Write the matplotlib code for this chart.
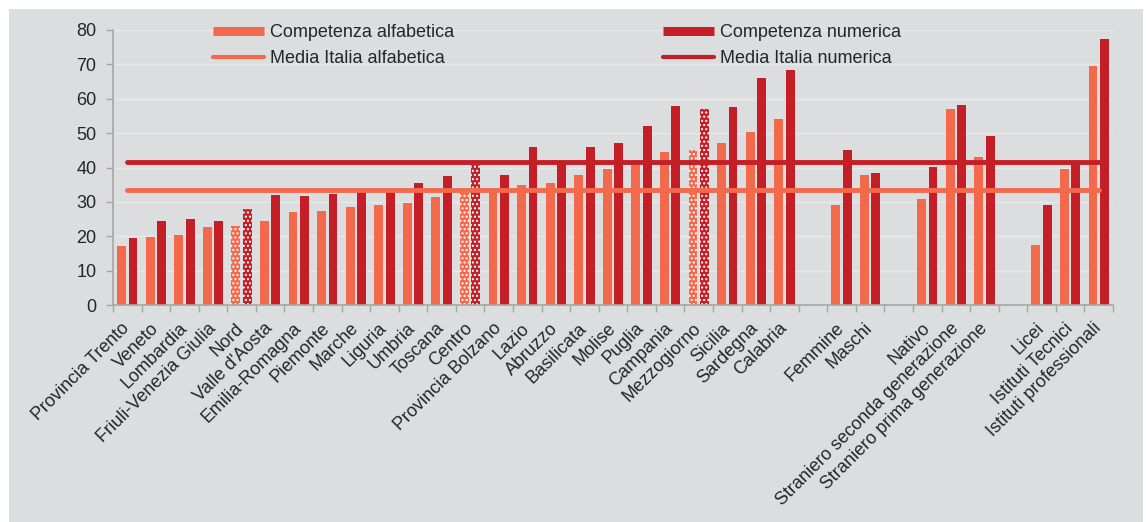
import numpy as np
import matplotlib
matplotlib.use("Agg")
import matplotlib.pyplot as plt
from matplotlib.lines import Line2D
from matplotlib.patches import Rectangle

nan = np.nan

categories = ["Provincia Trento", "Veneto", "Lombardia", "Friuli-Venezia Giulia", "Nord",
              "Valle d'Aosta", "Emilia-Romagna", "Piemonte", "Marche", "Liguria", "Umbria",
              "Toscana", "Centro", "Provincia Bolzano", "Lazio", "Abruzzo", "Basilicata",
              "Molise", "Puglia", "Campania", "Mezzogiorno", "Sicilia", "Sardegna", "Calabria",
              "", "Femmine", "Maschi", "", "Nativo", "Straniero seconda generazione",
              "Straniero prima generazione", "", "Licei", "Istituti Tecnici",
              "Istituti professionali"]

alfabetica = [17.2, 19.9, 20.4, 22.8, 23.1, 24.3, 27.1, 27.3, 28.6, 29.0, 29.6, 31.3, 33.0,
              33.8, 34.9, 35.6, 37.8, 39.5, 41.2, 44.6, 45.0, 47.0, 50.3, 54.1,
              nan, 29.0, 37.7, nan, 30.9, 56.9, 43.1, nan, 17.5, 39.6, 69.4]
numerica = [19.6, 24.5, 25.0, 24.4, 27.8, 31.9, 31.7, 32.4, 33.0, 33.0, 35.6, 37.4, 40.8,
            37.8, 46.1, 41.0, 45.9, 47.0, 52.2, 57.9, 56.9, 57.6, 66.0, 68.3,
            nan, 45.1, 38.3, nan, 40.2, 58.1, 49.1, nan, 29.1, 41.0, 77.3]
macro_aree = ["Nord", "Centro", "Mezzogiorno"]
media_alfabetica = 33.4
media_numerica = 41.5

series_labels = ["Competenza alfabetica", "Competenza numerica",
                 "Media Italia alfabetica", "Media Italia numerica"]

C_ALFA = "#F2694C"
C_NUM = "#C41E26"
BG = "#DCDDDF"
TXT = "#262626"
AX = "#A6A6A6"
FS = 13

plt.rcParams["font.family"] = ["Liberation Sans", "DejaVu Sans"]
plt.rcParams["hatch.linewidth"] = 1.0

W, H = 1146, 522
fig = plt.figure(figsize=(W / 100, H / 100), dpi=100)
fig.patch.set_facecolor("white")
fig.patches.append(Rectangle((9 / W, 0), (1143 - 9) / W, 513 / H,
                             transform=fig.transFigure, facecolor=BG,
                             edgecolor="none", zorder=-10))

ax = fig.add_axes([113 / W, (H - 305) / H, 1000 / W, 275 / H])
ax.set_facecolor("none")

n = len(categories)
x = np.arange(n)
bw = 0.31
for i in range(n):
    hatched = categories[i] in macro_aree
    for val, off, col in ((alfabetica[i], -0.2, C_ALFA), (numerica[i], 0.2, C_NUM)):
        if np.isnan(val):
            continue
        if hatched:
            ax.bar(x[i] + off, val, width=bw, color=col, edgecolor="white",
                   linewidth=0, hatch="....", zorder=2)
        else:
            ax.bar(x[i] + off, val, width=bw, color=col, edgecolor="none",
                   linewidth=0, zorder=2)

ax.plot([x[0], x[-1]], [media_alfabetica] * 2, color=C_ALFA, lw=3.5,
        solid_capstyle="round", zorder=3)
ax.plot([x[0], x[-1]], [media_numerica] * 2, color=C_NUM, lw=3.5,
        solid_capstyle="round", zorder=3)

ax.set_xlim(-0.5, n - 0.5)
ax.set_ylim(0, 80)
ax.set_yticks(np.arange(0, 81, 10))
ax.yaxis.grid(True, color="#E8E9EB", lw=1.0)
ax.set_axisbelow(True)

ax.set_xticks(x)
ax.set_xticklabels(categories, rotation=45, ha="right", va="center",
                   rotation_mode="anchor", fontsize=FS, color=TXT)
ax.set_xticks(np.arange(-0.5, n, 1), minor=True)
ax.tick_params(axis="x", which="major", length=0, pad=15)
ax.tick_params(axis="x", which="minor", length=5, color=AX, width=1)
ax.tick_params(axis="y", length=5, color=AX, width=1, labelsize=FS,
               labelcolor=TXT, pad=7)

for s in ("top", "right"):
    ax.spines[s].set_visible(False)
for s in ("left", "bottom"):
    ax.spines[s].set_color(AX)
    ax.spines[s].set_linewidth(1.2)

h_alfa = Line2D([], [], color=C_ALFA, lw=6.5, solid_capstyle="butt")
h_num = Line2D([], [], color=C_NUM, lw=6.5, solid_capstyle="butt")
h_malfa = Line2D([], [], color=C_ALFA, lw=3.0, solid_capstyle="round")
h_mnum = Line2D([], [], color=C_NUM, lw=3.0, solid_capstyle="round")

common = dict(loc="upper left", frameon=False, fontsize=FS, handlelength=2.85,
              handletextpad=0.3, labelspacing=0.5, borderpad=0, borderaxespad=0,
              labelcolor=TXT)
leg1 = fig.legend([h_alfa, h_malfa], [series_labels[0], series_labels[2]],
                  bbox_to_anchor=(213 / W, (H - 24) / H), **common)
leg2 = fig.legend([h_num, h_mnum], [series_labels[1], series_labels[3]],
                  bbox_to_anchor=(663 / W, (H - 24) / H), **common)

fig.savefig("out.png", dpi=100, facecolor=fig.get_facecolor())
